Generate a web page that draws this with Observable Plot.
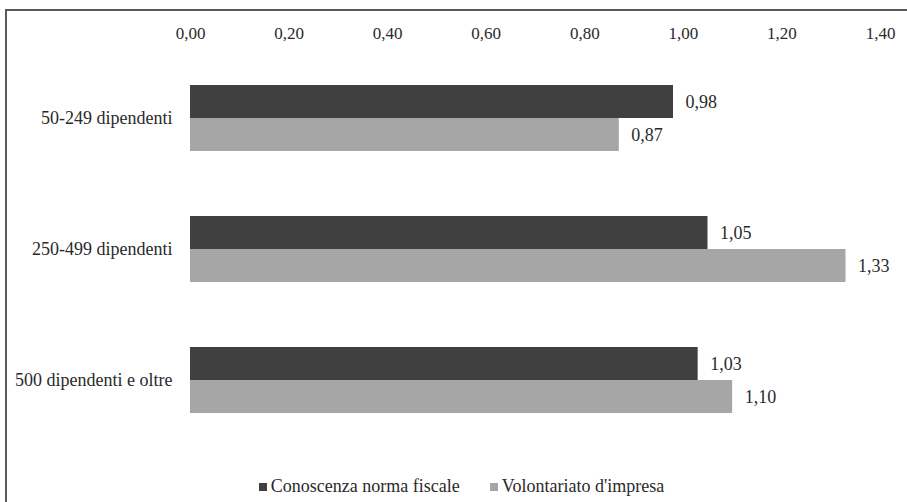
<!DOCTYPE html>
<html>
<head>
<meta charset="utf-8">
<script src="https://cdn.jsdelivr.net/npm/d3@7"></script>
<script src="https://cdn.jsdelivr.net/npm/@observablehq/plot@0.6"></script>
<style>
  html, body { margin: 0; padding: 0; background: #fff; }
  #wrap {
    position: absolute; left: 0; top: 0; width: 907px; height: 502px; overflow: hidden;
    font-family: "Liberation Serif", "Times New Roman", Times, "DejaVu Serif", serif; color: #2a2a2a;
  }
  #box {
    position: absolute; left: 5px; top: 9px; width: 920px; height: 520px;
    border-left: 2px solid #5a5a5a; border-top: 2px solid #5a5a5a;
  }
  #chart { position: absolute; left: 0; top: 0; }
  #chart svg text { font-family: "Liberation Serif", "Times New Roman", Times, "DejaVu Serif", serif; }
  #legend {
    position: absolute; left: 8px; top: 476px; width: 907px;
    display: flex; justify-content: center; gap: 30px; font-size: 18px;
  }
  #legend .item { display: flex; align-items: center; gap: 4px; }
  #legend .sw { width: 8px; height: 8px; display: inline-block; }
</style>
</head>
<body>
<div id="wrap">
  <div id="box"></div>
  <div id="chart"></div>
  <div id="legend"></div>
</div>
<script>
// Firm size classes and the two indicators, per class
const categories = ["50-249 dipendenti", "250-499 dipendenti", "500 dipendenti e oltre"];
const seriesNames = ["Conoscenza norma fiscale", "Volontariato d'impresa"];
const conoscenza = [0.98, 1.05, 1.03];
const volontariato = [0.87, 1.33, 1.10];
const xTicks = [0, 0.2, 0.4, 0.6, 0.8, 1.0, 1.2, 1.4];
const seriesColors = ["#404040", "#a6a6a6"];

const rows = categories.flatMap((c, i) => [
  {category: c, series: seriesNames[0], value: conoscenza[i]},
  {category: c, series: seriesNames[1], value: volontariato[i]}
]);

// Italian decimal format: 0,98
const fmt = v => d3.format(".2f")(v).replace(".", ",");

const serif = "'Liberation Serif', 'Times New Roman', Times, 'DejaVu Serif', serif";

const chart = Plot.plot({
  width: 907,
  height: 470,
  marginLeft: 190,
  marginRight: 27,
  marginTop: 45,
  marginBottom: 17,
  style: {fontFamily: serif, fontSize: "18px", color: "#2a2a2a", background: "transparent"},
  x: {domain: [0, 1.4], axis: null},
  y: {domain: seriesNames, padding: 0, axis: null},
  fy: {domain: categories, paddingInner: 0.4924, paddingOuter: 0.2917, label: null},
  color: {domain: seriesNames, range: seriesColors},
  marks: [
    Plot.axisX({anchor: "top", ticks: xTicks, tickFormat: fmt, tickSize: 0, tickPadding: 47, fontSize: 17, label: null}),
    Plot.axisFy({anchor: "left", tickSize: 0, tickPadding: 18, fontSize: 18, label: null}),
    Plot.barX(rows, {x: "value", y: "series", fy: "category", fill: "series", insetTop: 0, insetBottom: 0}),
    Plot.text(rows, {x: "value", y: "series", fy: "category", text: d => fmt(d.value), textAnchor: "start", dx: 12, fontSize: 18, fill: "#2a2a2a"})
  ]
});
document.getElementById("chart").appendChild(chart);

// Legend below the plot
const legend = d3.select("#legend");
seriesNames.forEach((name, i) => {
  const item = legend.append("div").attr("class", "item");
  item.append("span").attr("class", "sw").style("background", seriesColors[i]);
  item.append("span").text(name);
});
</script>
</body>
</html>
